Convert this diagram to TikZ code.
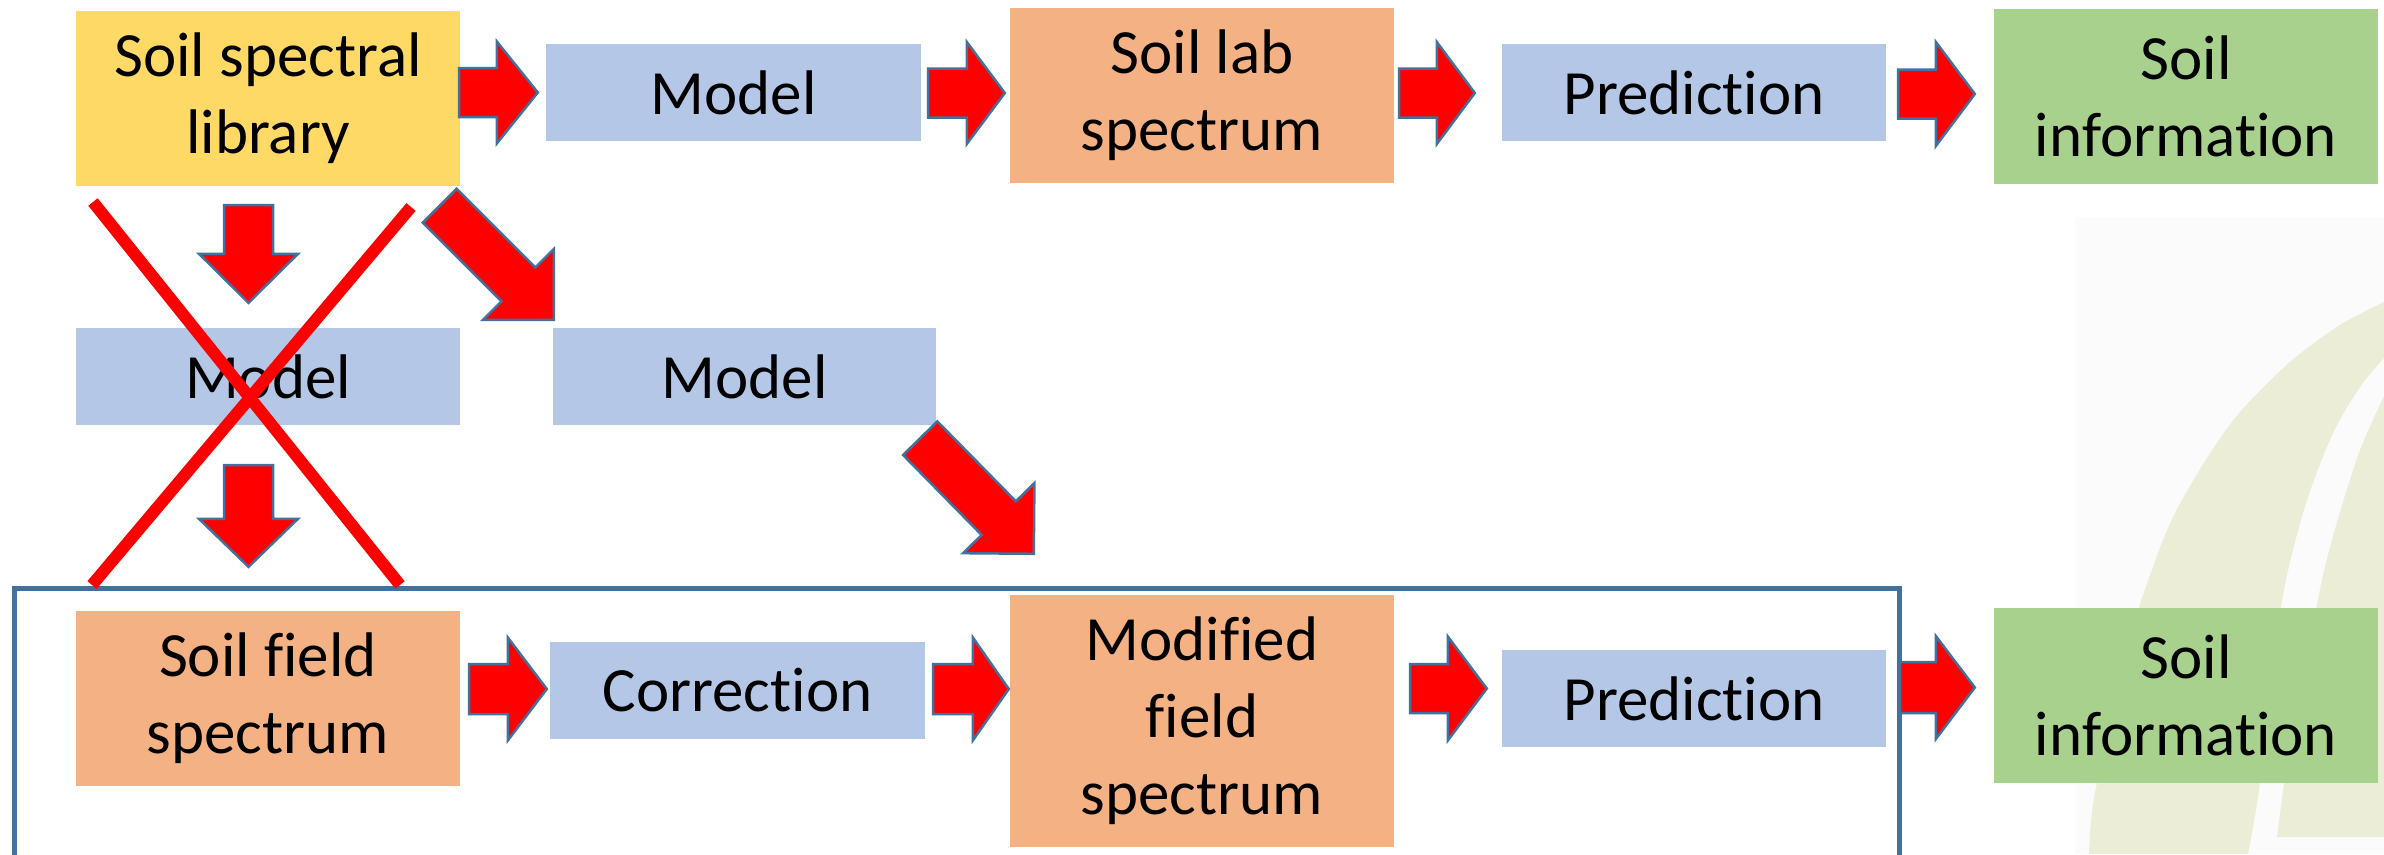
\documentclass[tikz,border=0pt]{standalone}
\usepackage{fontspec}
\setmainfont{Carlito}[Ligatures=NoCommon]
\usetikzlibrary{calc}
\definecolor{cyel}{HTML}{FFD966}
\definecolor{cblu}{HTML}{B4C7E7}
\definecolor{cora}{HTML}{F4B183}
\definecolor{cgrn}{HTML}{A9D18E}
\definecolor{cline}{HTML}{41719C}
\definecolor{cbeige}{HTML}{EBEDD6}
\definecolor{cfaint}{HTML}{FBFBFB}
\newcommand{\blockarrow}[5]{%
  \path #1 coordinate (bas) #2 coordinate (bae);
  \path ($(bae)!#5!(bas)$) coordinate (bab);
  \filldraw[barrow] ($(bas)!#3!90:(bae)$) -- ($(bab)!#3!90:(bae)$) -- ($(bab)!#4!90:(bae)$) -- (bae)
    -- ($(bab)!#4!-90:(bae)$) -- ($(bab)!#3!-90:(bae)$) -- ($(bas)!#3!-90:(bae)$) -- cycle;
}
\begin{document}
\begin{tikzpicture}[x=1bp,y=-1bp,
  box/.style={rectangle, draw=none, inner sep=0pt, align=center,
    font=\fontsize{63bp}{77bp}\selectfont},
  tall/.style={box, minimum width=384bp, minimum height=175bp},
  short/.style={box, minimum width=384bp, minimum height=97bp},
  barrow/.style={fill=red, draw=cline, line width=2.5bp, line join=miter},
  cross/.style={draw=red, line width=12bp},
  frame/.style={draw=cline, line width=5bp}]
\useasboundingbox (0,0) rectangle (2384,854);
\clip (0,0) rectangle (2384,854);
% background decoration
\fill[cfaint] (2075,217) rectangle (2384,854);
\fill[cbeige] plot[smooth] coordinates {(2384,302) (2340,325) (2290,362) (2240,412) (2207,458)
    (2173,517) (2150,575) (2130,637) (2110,721) (2093,804) (2089,854)}
  -- plot[smooth] coordinates {(2248,854) (2260,783) (2273,658) (2287,575) (2307,500)
    (2333,433) (2360,387) (2384,358)} -- cycle;
\fill[cbeige] plot[smooth] coordinates {(2384,396) (2360,450) (2340,512) (2323,575)
    (2307,658) (2290,742) (2277,837)}
  -- (2384,837) -- cycle;
% frame
\draw[frame] (14,588) rectangle (1899,900);
% boxes
\node[tall, fill=cyel] (ssl) at (268,98.5) {Soil spectral\\library};
\node[short, fill=cblu, minimum width=375bp] (m1) at (733.5,92.5) {Model};
\node[tall, fill=cora] (slab) at (1202,95.5) {Soil lab\\spectrum};
\node[short, fill=cblu] (pred1) at (1694,92.5) {Prediction};
\node[tall, fill=cgrn] (info1) at (2186,96.5) {Soil\\information};
\node[short, fill=cblu] (mx) at (268,376.5) {Model};
\node[short, fill=cblu, minimum width=383bp] (m2) at (744.5,376.5) {Model};
\node[tall, fill=cora] (sf) at (268,698.5) {Soil field\\spectrum};
\node[short, fill=cblu, minimum width=375bp] (corr) at (737.5,690.5) {Correction};
\node[tall, fill=cora, minimum height=252bp] (mfs) at (1202,721) {Modified\\field\\spectrum};
\node[short, fill=cblu] (pred2) at (1694,698.5) {Prediction};
\node[tall, fill=cgrn] (info2) at (2186,695.5) {Soil\\information};
% block arrows, row 1
\blockarrow{($(ssl.east|-m1.west)+(-1,0)$)}{($(m1.west)+(-8,0)$)}{24.5bp}{51bp}{41bp}
\blockarrow{($(m1.east)+(7,0.5)$)}{($(slab.west|-m1.east)+(-5,0.5)$)}{24.5bp}{51bp}{38bp}
\blockarrow{($(slab.east|-pred1.west)+(5,0.5)$)}{($(pred1.west)+(-27,0.5)$)}{24.5bp}{51bp}{38bp}
\blockarrow{($(pred1.east)+(12,1.5)$)}{($(info1.west|-pred1.east)+(-19,1.5)$)}{24.5bp}{52bp}{39bp}
% block arrows, row 3
\blockarrow{($(sf.east|-corr.west)+(9,-1.5)$)}{($(corr.west)+(-3,-1.5)$)}{25bp}{51.5bp}{39bp}
\blockarrow{($(corr.east)+(8,-1.5)$)}{($(mfs.west|-corr.east)+(-1,-1.5)$)}{25bp}{51.5bp}{36bp}
\blockarrow{($(mfs.east|-pred2.west)+(16,-10)$)}{($(pred2.west)+(-15,-10)$)}{24.5bp}{52bp}{39bp}
\blockarrow{($(pred2.east)+(14,-11)$)}{($(info2.west|-pred2.east)+(-19,-11)$)}{25.5bp}{51.5bp}{39bp}
% vertical and diagonal arrows
\blockarrow{($(ssl.south)+(-19.5,19)$)}{($(mx.north)+(-19.5,-25)$)}{24.5bp}{49.5bp}{49bp}
\blockarrow{($(mx.south)+(-19.5,40)$)}{($(sf.north)+(-19.5,-44)$)}{24.5bp}{49.5bp}{48bp}
\blockarrow{($(ssl.south east)+(-20.5,19.5)$)}{($(m2.north west)+(1,-8)$)}{24bp}{50bp}{50bp}
\blockarrow{($(m2.south east)+(-16,13)$)}{($(mfs.north west)+(24,-41)$)}{24bp}{50bp}{50bp}
% cross over the abandoned path
\draw[cross] (93,202) -- (400,585);
\draw[cross] (411,207) -- (92,585);
\end{tikzpicture}
\end{document}
